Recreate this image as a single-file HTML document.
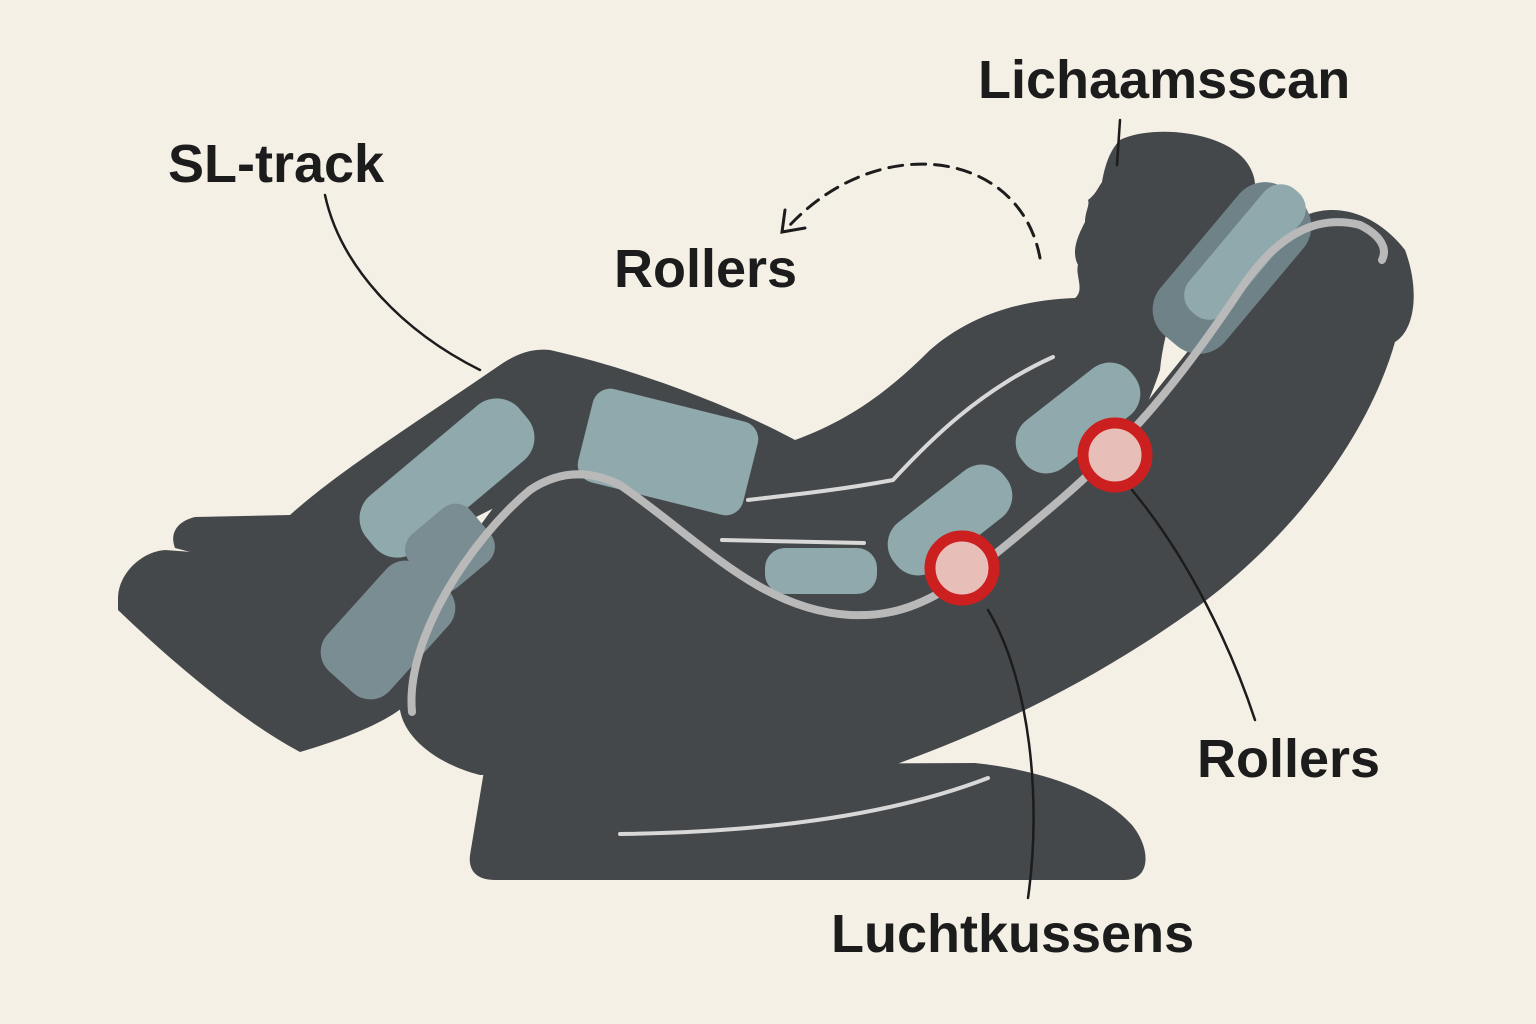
<!DOCTYPE html>
<html><head><meta charset="utf-8"><style>
html,body{margin:0;padding:0;background:#f5f0e6;}
svg{display:block}
text{font-family:"Liberation Sans",sans-serif;font-weight:bold;fill:#1c1c1c;font-size:54px}
</style></head><body>
<svg width="1536" height="1024" viewBox="0 0 1536 1024" xmlns="http://www.w3.org/2000/svg">
<rect width="1536" height="1024" fill="#f5f0e6"/>
<g fill="#45484b">
<path d="M485,765 L470,855 C468,872 478,880 495,880 L1125,880 C1150,880 1152,850 1132,825 C1100,790 1040,770 975,763 Z"/>
<path d="M118,598 C118,575 140,552 165,550 L300,560 L420,690 C400,720 340,740 300,752 C240,720 170,660 118,610 Z"/>
<path d="M400,710 C398,650 450,560 515,480 C545,450 585,455 625,480 C700,535 780,605 860,612 C930,615 990,560 1100,460 L1290,225 C1320,200 1370,205 1405,250 C1420,290 1415,330 1395,342 C1370,430 1300,530 1200,605 C1090,685 980,735 880,770 L480,775 C440,765 405,740 400,710 Z"/>
<path d="M1120,140 C1150,125 1220,130 1245,160 C1265,185 1255,215 1220,240 C1185,270 1165,320 1160,370 C1150,400 1140,420 1125,450 C1060,520 980,590 900,625 C840,635 760,610 690,540 C640,495 600,475 560,475 L470,520 L335,635 C325,640 300,640 295,630 L300,575 C260,568 220,560 175,548 C170,535 175,522 195,517 L290,515 C340,470 420,420 500,365 C515,355 530,348 550,350 C640,370 740,410 795,440 C850,420 890,390 930,350 C970,315 1020,300 1075,298 C1085,290 1075,275 1078,265 C1070,250 1080,232 1085,222 C1085,212 1090,205 1088,200 C1095,195 1098,188 1102,182 C1105,165 1110,150 1120,140 Z"/>
</g>
<g fill="#8fa9ad">
<rect x="-85" y="-48" width="170" height="96" rx="18" transform="translate(668,452) rotate(14)"/>
<rect x="-100" y="-36" width="200" height="72" rx="30" transform="translate(447,478) rotate(-40)"/>
<rect x="-70" y="-30" width="140" height="60" rx="28" transform="translate(1078,418) rotate(-38)"/>
<rect x="-70" y="-30" width="140" height="60" rx="28" transform="translate(950,520) rotate(-38)"/>
<rect x="765" y="548" width="112" height="46" rx="20"/>
</g>
<g fill="#7a8d93">
<rect x="-70" y="-42" width="140" height="84" rx="26" transform="translate(388,630) rotate(-48)"/>
<rect x="-40" y="-35" width="80" height="70" rx="20" transform="translate(450,548) rotate(-40)"/>
<rect x="-95" y="-42" width="190" height="84" rx="34" transform="translate(1232,268) rotate(-50)" fill="#6f8288"/>
<rect x="-80" y="-24" width="160" height="48" rx="22" transform="translate(1245,252) rotate(-50)" fill="#8fa9ad"/>
</g>
<path d="M412,712 C405,640 470,540 530,490 C560,470 590,470 620,485 C700,540 760,610 850,615 C920,618 960,585 1060,500 C1130,440 1180,380 1240,290 C1280,230 1320,215 1360,225 C1380,235 1388,248 1382,260" fill="none" stroke="#b9b9b9" stroke-width="8" stroke-linecap="round"/>
<g fill="none" stroke="#d8d8d8" stroke-width="4" stroke-linecap="round">
<path d="M1053,357 C980,390 930,440 893,480 C840,490 790,495 748,500"/>
<path d="M722,540 L864,543"/>
<path d="M620,834 C780,832 900,812 988,778"/>
</g>
<circle cx="1115" cy="455" r="32" fill="#e8bfb8" stroke="#cc1f1f" stroke-width="11"/>
<circle cx="962" cy="568" r="32" fill="#e8bfb8" stroke="#cc1f1f" stroke-width="11"/>
<g fill="none" stroke="#1c1c1c" stroke-width="2.5" stroke-linecap="round">
<path d="M325,195 C340,265 400,330 480,370"/>
<path d="M1120,120 L1117,165"/>
<path d="M1132,490 C1190,560 1232,650 1255,720"/>
<path d="M988,610 C1030,680 1042,800 1028,898"/>
<path d="M1040,258 C1020,150 880,130 790,225" stroke-width="3" stroke-dasharray="14,9"/>
<path d="M785,210 L782,232 L805,228" stroke-width="3"/>
</g>
<text x="978" y="98">Lichaamsscan</text>
<text x="168" y="182">SL-track</text>
<text x="614" y="287">Rollers</text>
<text x="1197" y="777">Rollers</text>
<text x="831" y="952">Luchtkussens</text>
</svg>
</body></html>
